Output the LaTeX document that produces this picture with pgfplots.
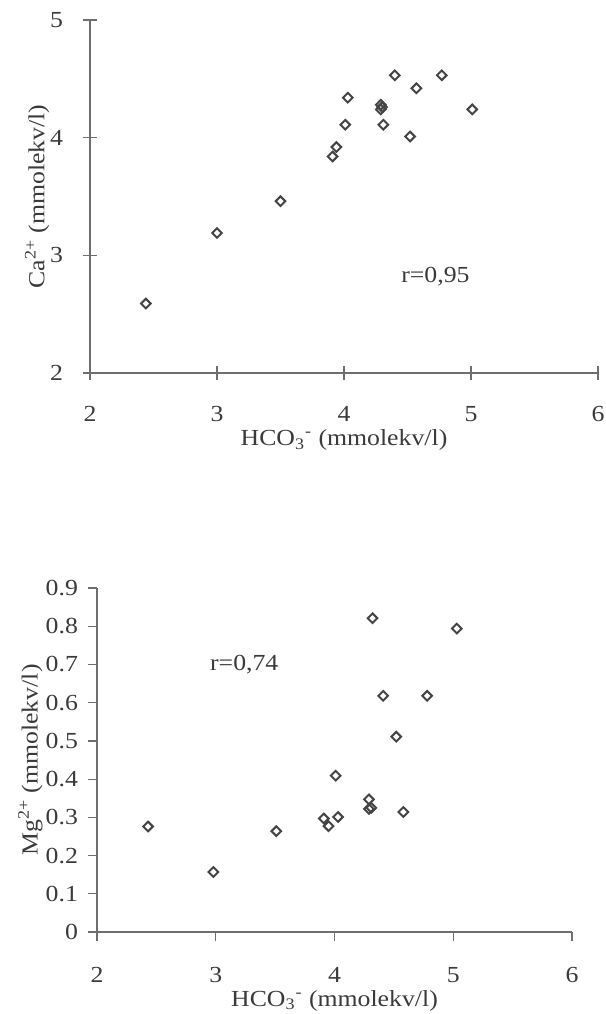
\documentclass[border=0pt]{standalone}
\usepackage{fontspec}
\setmainfont{Liberation Serif}[FakeStretch=1.12]
\usepackage{pgfplots}
\pgfplotsset{compat=1.18}

\definecolor{ink}{HTML}{3A3A3A}
\definecolor{axisgray}{HTML}{6E6E6E}
\definecolor{markgray}{HTML}{444444}

% common look of both panels (scanned Excel-style scatter)
\pgfplotsset{
  scanstyle/.style={
    scale only axis,
    axis x line*=bottom, axis y line*=left,
    axis line style={axisgray, line width=0.6pt},
    every tick/.style={axisgray, line width=0.6pt},
    /pgf/number format/assume math mode=true,
    tick label style={ink, font=\fontsize{11.5}{13}\selectfont},
    label style={ink, font=\fontsize{11.5}{13}\selectfont},
    xmin=2, xmax=6, xtick={2,3,4,5,6},
    clip=false,
  },
  scatterpts/.style={only marks, mark=square, mark size=1.7pt,
    mark options={rotate=45, markgray, line width=1pt}},
}

\begin{document}
\begin{tikzpicture}
\useasboundingbox (0,0) rectangle (303pt,-507pt);

% Ca2+ vs HCO3-
\begin{axis}[scanstyle,
  at={(45pt,-186.5pt)}, anchor=south west,
  width=254pt, height=176.5pt,
  ymin=2, ymax=5, ytick={2,3,4,5},
  xtick align=center, ytick align=center, major tick length=7pt,
  xticklabel style={anchor=center, yshift=-17pt},
  yticklabel style={anchor=east, xshift=-6.5pt},
  xlabel={HCO\textsubscript{3}\textsuperscript{-} (mmolekv/l)},
  ylabel={Ca\textsuperscript{2+} (mmolekv/l)},
  xlabel style={at={(axis description cs:0.5,-0.19)}, anchor=center},
  ylabel style={at={(axis description cs:-0.104,0.5)}, anchor=center},
]
\addplot[scatterpts] coordinates {
(2.44,2.59) (3.00,3.19) (3.50,3.46) (3.91,3.84) (3.94,3.92) (4.01,4.11)
(4.03,4.34) (4.29,4.28) (4.30,4.26) (4.29,4.24) (4.31,4.11) (4.40,4.53)
(4.52,4.01) (4.57,4.42) (4.77,4.53) (5.01,4.24)
};
\node[ink, font=\fontsize{11.5}{13}\selectfont] at (axis cs:4.72,2.82) {r=0,95};
\end{axis}

% Mg2+ vs HCO3-
\begin{axis}[scanstyle,
  at={(48.5pt,-466pt)}, anchor=south west,
  width=237.5pt, height=172pt,
  ymin=0, ymax=0.9, ytick={0,0.1,...,0.9},
  xtick align=outside, ytick align=outside, major tick length=4.5pt,
  xticklabel style={anchor=center, yshift=-17pt},
  yticklabel style={anchor=east, xshift=-1.5pt, /pgf/number format/.cd, fixed, precision=1},
  xlabel={HCO\textsubscript{3}\textsuperscript{-} (mmolekv/l)},
  ylabel={Mg\textsuperscript{2+} (mmolekv/l)},
  xlabel style={at={(axis description cs:0.5,-0.2)}, anchor=center},
  ylabel style={at={(axis description cs:-0.14,0.5)}, anchor=center},
]
\addplot[scatterpts] coordinates {
(2.43,0.276) (2.98,0.157) (3.51,0.264) (3.91,0.297) (3.95,0.277) (4.03,0.301)
(4.01,0.409) (4.29,0.347) (4.29,0.322) (4.31,0.325) (4.32,0.821) (4.41,0.618)
(4.52,0.511) (4.58,0.314) (4.78,0.618) (5.03,0.794)
};
\node[ink, font=\fontsize{11.5}{13}\selectfont] at (axis cs:3.24,0.70) {r=0,74};
\end{axis}
\end{tikzpicture}
\end{document}
